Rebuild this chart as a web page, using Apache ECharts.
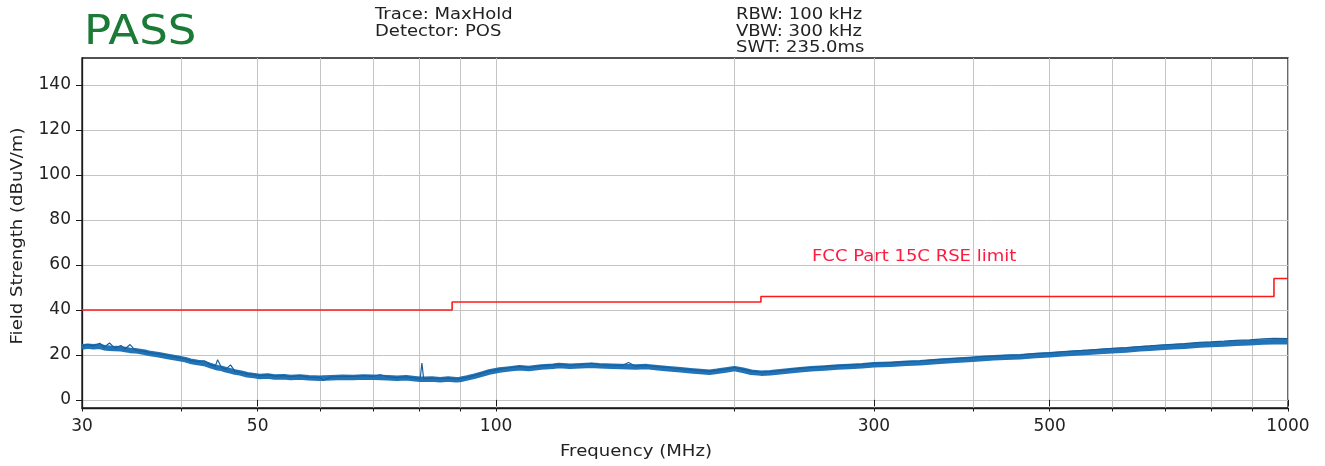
<!DOCTYPE html>
<html>
<head>
<meta charset="utf-8">
<script src="https://cdn.jsdelivr.net/npm/echarts@6/dist/echarts.min.js"></script>
<style>html,body{margin:0;padding:0;background:#fff}#c{width:1325px;height:466px}</style>
</head>
<body>
<div id="c"></div>
<script>
// ---- data ----
const traceFreq = [30,30.5,31,31.6,32,32.5,33,33.6,34,34.5,35,36,36.6,37.5,38.5,39.5,40.5,41.1,42,42.8,43.5,44.2,44.5,45,45.6,46.2,46.8,47.5,48.5,49.5,50.3,51.5,52.5,54,55,56.5,58,60,60.5,62,64,66,68,70,71.5,73,75,77,79,80.2,80.6,81,83,85,87,89,90,92,94,96,98,101,104,107,110,114,118,120,124,128,132,135,140,144,147,150,155,160,165,171,176,181,186,190,195,200,205,210,216,222,230,240,250,260,270,279,290,300,315,330,343,360,380,395,408,425,440,459,480,500,520,540,560,578,600,625,650,669,690,715,740,774,800,830,860,895,930,960,1000];
// band centre of the max-hold trace
const traceLevel = [23.5,23.9,23.6,23.8,23.2,23.0,22.8,22.7,22.4,22.0,21.9,21.2,20.6,20.1,19.3,18.6,17.9,17.2,16.6,16.2,15.4,14.6,14.3,14.0,13.4,12.9,12.4,12.0,11.2,10.8,10.4,10.6,10.2,10.3,10.0,10.2,9.8,9.6,9.7,9.9,10.1,10.0,10.2,10.1,10.0,9.9,9.6,9.8,9.4,9.2,9.2,9.2,9.3,9.0,9.3,9.0,9.1,9.8,10.6,11.5,12.4,13.3,13.8,14.3,14.0,14.6,15.0,15.3,15.0,15.2,15.4,15.2,15.0,14.8,14.7,14.6,14.8,14.3,13.9,13.4,13.0,12.6,12.3,12.7,13.3,13.9,13.2,12.3,11.9,12.1,12.6,13.3,13.8,14.2,14.6,14.9,15.2,15.6,15.9,16.3,16.5,17.1,17.6,18.0,18.3,18.7,19.0,19.2,19.7,20.1,20.5,20.9,21.2,21.5,21.9,22.2,22.7,23.0,23.3,23.6,23.9,24.4,24.6,24.9,25.2,25.4,25.7,25.9,25.8];
// same trace with the narrow peaks visible above the band
const tracePeak = [23.9,24.6,24.0,25.2,23.4,25.3,23.0,24.2,22.6,24.6,22.1,21.6,20.9,20.5,19.8,19.0,18.3,17.6,17.0,17.4,15.8,14.9,17.9,14.4,13.7,15.6,12.7,12.3,11.6,11.2,10.7,11.2,10.6,10.8,10.3,10.8,10.1,10.0,8.6,10.3,10.5,10.4,10.8,10.5,11.2,10.2,9.9,10.3,9.7,9.5,16.4,9.5,9.7,9.4,9.7,9.3,9.5,10.1,10.9,11.9,12.8,13.7,14.3,14.9,14.4,15.1,15.6,15.8,15.4,15.7,16.3,15.6,15.4,15.2,16.6,15.0,15.3,14.7,14.4,13.8,13.5,13.0,12.7,13.1,13.7,14.4,13.6,12.8,12.4,12.6,13.1,13.9,14.4,14.8,15.2,15.5,15.8,16.3,16.6,17.0,17.3,17.9,18.4,18.7,19.2,19.5,19.8,20.0,20.6,20.9,21.4,21.8,22.1,22.5,22.9,23.2,23.7,24.0,24.4,24.7,25.0,25.6,25.8,26.1,26.5,26.7,27.1,27.4,27.2];
const limitFreq = [30,88,88,216,216,960,960,1000];
const limitLevel = [40,40,43.5,43.5,46,46,54,54];
const xGridTicks = [30,40,50,60,70,80,90,100,200,300,400,500,600,700,800,900,1000];
const xLabelTicks = [30,50,100,300,500,1000];
const yTicks = [0,20,40,60,80,100,120,140];
const headerLeft = ['Trace: MaxHold','Detector: POS'];
const headerRight = ['RBW: 100 kHz','VBW: 300 kHz','SWT: 235.0ms'];
const verdict = 'PASS';
const limitName = 'FCC Part 15C RSE limit';
const xTitle = 'Frequency (MHz)';
const yTitle = 'Field Strength (dBuV/m)';

const FONT = '"DejaVu Sans", sans-serif';
const chart = echarts.init(document.getElementById('c'), null, {renderer:'canvas'});
const zipPts = (xs, ys) => xs.map((x,i)=>[x, ys[i]]);

const option = {
  animation: false,
  backgroundColor: '#fff',
  textStyle: {fontFamily: FONT},
  grid: {left: 82, right: 37, top: 58, bottom: 58, show: true, borderColor: '#1a1a1a', borderWidth: 1.3, backgroundColor: 'transparent'},
  xAxis: [{
    type: 'log', logBase: 10, min: 30, max: 1000,
    axisLine: {show: true, onZero: false, lineStyle: {color: '#1a1a1a', width: 1.3}},
    axisTick: {show: true, length: 3.5, customValues: xGridTicks, lineStyle: {color: '#1a1a1a'}},
    axisLabel: {show: true, customValues: xLabelTicks, fontSize: 17, color: '#222', margin: 10, fontFamily: FONT,
      formatter: v => String(Math.round(v))},
    splitLine: {show: true, lineStyle: {color: '#c4c4c4', width: 1}},
    minorTick: {show: false}
  }, {
    type: 'log', logBase: 10, min: 30, max: 1000, position: 'bottom',
    axisLine: {show: false},
    axisTick: {show: true, length: 6.5, customValues: xLabelTicks, lineStyle: {color: '#1a1a1a'}},
    axisLabel: {show: false},
    splitLine: {show: false}
  }],
  yAxis: {
    type: 'value', min: -3.6, max: 152,
    axisLine: {show: true, lineStyle: {color: '#1a1a1a', width: 1.3}},
    axisTick: {show: true, length: 6, customValues: yTicks, lineStyle: {color: '#1a1a1a'}},
    axisLabel: {customValues: yTicks, fontSize: 17, color: '#222', margin: 11, fontFamily: FONT},
    splitLine: {show: true, lineStyle: {color: '#c4c4c4', width: 1}}
  },
  series: [{
    type: 'line', name: 'Trace', data: zipPts(traceFreq, traceLevel),
    showSymbol: false, symbol: 'none',
    lineStyle: {color: '#2274b8', width: 5.5, join: 'round'}, z: 3
  }, {
    type: 'line', name: 'TracePeak', data: zipPts(traceFreq, tracePeak),
    showSymbol: false, symbol: 'none',
    lineStyle: {color: '#1b5f98', width: 1.2}, z: 3
  }, {
    type: 'line', name: 'Limit', data: zipPts(limitFreq, limitLevel),
    showSymbol: false, symbol: 'none',
    lineStyle: {color: '#ff1a1a', width: 1.6}, z: 4
  }],
  graphic: [
    {type: 'text', x: 84, y: 13, scaleX: 1.1, style: {text: verdict, fontSize: 41, fill: '#1b7a35', fontFamily: FONT}},
    {type: 'text', x: 375, y: 7, scaleX: 1.2, style: {text: headerLeft.join('\n'), fontSize: 15, lineHeight: 16.5, fill: '#222', fontFamily: FONT}},
    {type: 'text', x: 736, y: 7, scaleX: 1.2, style: {text: headerRight.join('\n'), fontSize: 15, lineHeight: 16.5, fill: '#222', fontFamily: FONT}},
    {type: 'text', x: 812, y: 250, scaleX: 1.2, style: {text: limitName, fontSize: 15, fill: '#ff1a40', fontFamily: FONT}},
    {type: 'text', x: 636, y: 452, scaleX: 1.13, style: {text: xTitle, fontSize: 16, fill: '#222', fontFamily: FONT, align: 'center', verticalAlign: 'middle'}},
    {type: 'text', x: 18, y: 236, rotation: Math.PI/2, scaleX: 1.13, style: {text: yTitle, fontSize: 16, fill: '#222', fontFamily: FONT, align: 'center', verticalAlign: 'middle'}}
  ]
};
chart.setOption(option);
</script>
</body>
</html>
